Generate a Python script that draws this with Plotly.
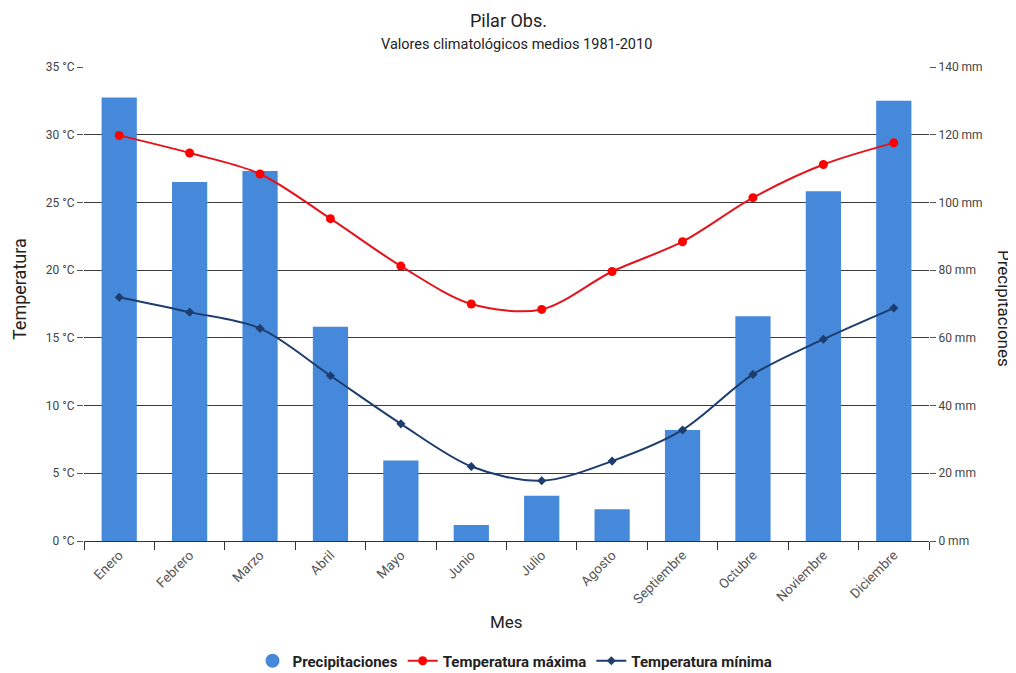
import plotly.graph_objects as go

meses = ["Enero", "Febrero", "Marzo", "Abril", "Mayo", "Junio", "Julio",
         "Agosto", "Septiembre", "Octubre", "Noviembre", "Diciembre"]
precipitaciones = [131.0, 106.0, 109.3, 63.3, 23.8, 4.7, 13.4, 9.4, 32.8, 66.4, 103.3, 130.0]
temp_max = [29.95, 28.65, 27.1, 23.8, 20.3, 17.5, 17.1, 19.9, 22.1, 25.35, 27.8, 29.4]
temp_min = [18.0, 16.9, 15.7, 12.2, 8.65, 5.5, 4.45, 5.9, 8.2, 12.3, 14.9, 17.2]

temp_ticks = [0, 5, 10, 15, 20, 25, 30, 35]
prec_ticks = [0, 20, 40, 60, 80, 100, 120, 140]

FONT = "Roboto"
BAR_C = "#4688da"
MAX_C = "#ff0000"
MAX_LINE = "#e3141c"
MIN_C = "#1d3d6e"

# The page body has an 8px margin; figure coords = page coords - 8
OFF = 8
W, H = 1016 - OFF, 673 - OFF
ML = 84 - OFF
MT = 67 - OFF
MR = W - (929 - OFF)
MB = H - (541 - OFF)
PW, PH = W - ML - MR, H - MT - MB


def px_x(x):
    return (x - OFF - ML) / PW


def px_y(y):
    return (H - MB - (y - OFF)) / PH


fig = go.Figure()

fig.add_trace(go.Bar(x=meses, y=precipitaciones, name="Precipitaciones",
                     marker=dict(color=BAR_C, line=dict(width=0)),
                     yaxis="y", showlegend=False))
fig.add_trace(go.Scatter(x=[None], y=[None], mode="markers", name="Precipitaciones",
                         marker=dict(color=BAR_C, size=14, symbol="circle"),
                         yaxis="y"))
fig.add_trace(go.Scatter(x=meses, y=temp_max, name="Temperatura máxima",
                         mode="lines+markers",
                         line=dict(color=MAX_LINE, width=2, shape="spline", smoothing=0.9),
                         marker=dict(color=MAX_C, size=9, symbol="circle"),
                         yaxis="y2"))
fig.add_trace(go.Scatter(x=meses, y=temp_min, name="Temperatura mínima",
                         mode="lines+markers",
                         line=dict(color=MIN_C, width=2, shape="spline", smoothing=0.9),
                         marker=dict(color=MIN_C, size=7, symbol="diamond"),
                         yaxis="y2"))

fig.update_layout(
    width=W, height=H,
    margin=dict(l=ML, r=MR, t=MT, b=MB, autoexpand=False),
    paper_bgcolor="white", plot_bgcolor="white",
    font=dict(family=FONT, color="#333333", size=12),
    bargap=0.5,
    showlegend=True,
    legend=dict(orientation="h", x=px_x(515), xanchor="center", y=px_y(661), yanchor="middle",
                font=dict(family=FONT, size=15, color="#222222", weight="bold"),
                itemsizing="trace", tracegroupgap=0),
    xaxis=dict(type="category", range=[-0.5, 11.5], tickangle=-45, tickson="boundaries",
               ticks="outside", ticklen=8, tickcolor="#333333",
               showline=True, linecolor="#333333", linewidth=1,
               showgrid=False, automargin=False,
               tickfont=dict(family=FONT, size=13.5, color="#555555")),
    yaxis=dict(side="right", range=[0, 140], tickvals=prec_ticks,
               ticktext=[f"{v} mm" for v in prec_ticks], automargin=False,
               showgrid=False, zeroline=False, ticks="outside", ticklen=6,
               tickcolor="#555555",
               tickfont=dict(family=FONT, size=12, color="#444444")),
    yaxis2=dict(overlaying="y", side="left", range=[0, 35], tickvals=temp_ticks,
                ticktext=[f"{v} °C" for v in temp_ticks], automargin=False,
                showgrid=True, gridcolor="#3a3a3a", gridwidth=1, zeroline=False,
                ticks="outside", ticklen=6, tickcolor="#555555",
                tickfont=dict(family=FONT, size=12, color="#444444")),
    annotations=[
        dict(text="Pilar Obs.", xref="paper", yref="paper", x=px_x(508), y=px_y(9),
             xanchor="center", yanchor="top", showarrow=False, borderpad=0,
             font=dict(family=FONT, size=18, color="#222222")),
        dict(text="Valores climatológicos medios 1981-2010", xref="paper", yref="paper",
             x=px_x(516), y=px_y(45), xanchor="center", yanchor="middle", showarrow=False,
             font=dict(family=FONT, size=14.5, color="#222222")),
        dict(text="Temperatura", xref="paper", yref="paper", x=px_x(19), y=px_y(289),
             xanchor="center", yanchor="middle",
             textangle=-90, showarrow=False,
             font=dict(family=FONT, size=18, color="#222222")),
        dict(text="Precipitaciones", xref="paper", yref="paper", x=px_x(1004), y=px_y(308),
             xanchor="center", yanchor="middle",
             textangle=90, showarrow=False,
             font=dict(family=FONT, size=17, color="#222222")),
        dict(text="Mes", xref="paper", yref="paper", x=px_x(506), y=px_y(622),
             xanchor="center", yanchor="middle", showarrow=False,
             font=dict(family=FONT, size=17, color="#222222")),
    ],
)

fig.write_html("out.html")
